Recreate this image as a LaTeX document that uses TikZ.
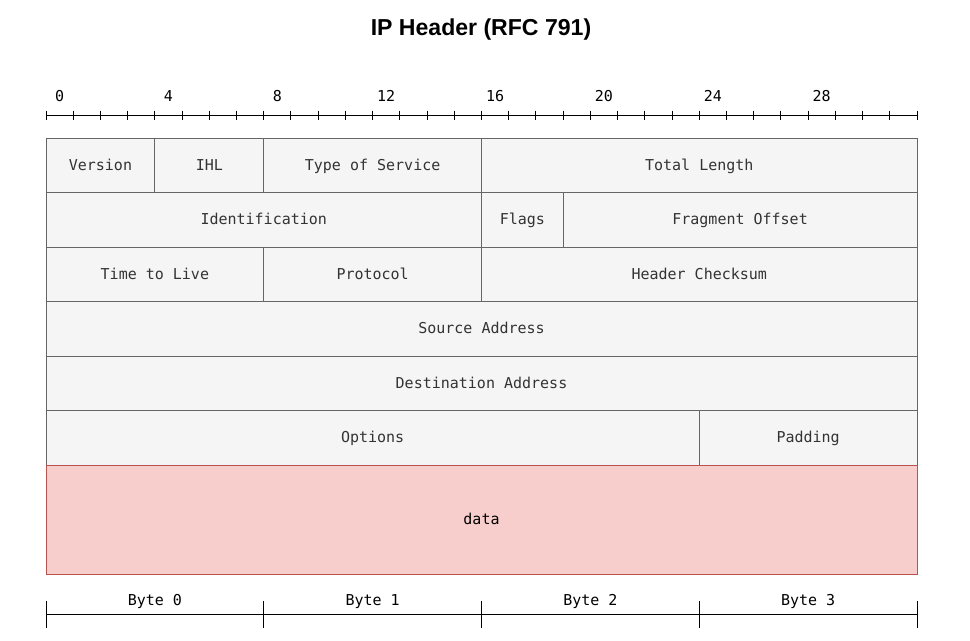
\documentclass[tikz,border=0pt]{standalone}
\usepackage{fontspec}
\newfontfamily\monofnt{DejaVu Sans Mono}
\newfontfamily\titlefnt{Liberation Sans}
\definecolor{fieldfill}{HTML}{F5F5F5}
\definecolor{fieldline}{HTML}{666666}
\definecolor{fieldtext}{HTML}{333333}
\definecolor{datafill}{HTML}{F8CECC}
\definecolor{dataline}{HTML}{B85450}
\newcommand\bw{20.4140625pt}
\newcommand\rh{40.875pt}
\tikzset{
  field/.style={draw=fieldline, fill=fieldfill, text=fieldtext, line width=0.75pt,
    font=\monofnt\fontsize{11.25pt}{13pt}\selectfont, minimum height=\rh,
    text height=9.1pt, text depth=1.9pt,
    inner sep=0pt, outer sep=0pt, anchor=north west},
  datafield/.style={field, draw=dataline, fill=datafill, text=black, minimum height=81.75pt},
  rulerlbl/.style={font=\monofnt\fontsize{11.25pt}{13pt}\selectfont, text=black, inner sep=0pt,
    text height=9.1pt, text depth=1.9pt},
  ruler/.style={line width=0.75pt, black},
}
\newcommand\fld[5]{\node[field, minimum width=#3*\bw] (#1) at ({46+#2*27.21875},#4) {#5};}
\begin{document}
\begin{tikzpicture}[x=0.75pt,y=-0.75pt]
\useasboundingbox (0,0) rectangle (970,640);
\node[font=\titlefnt\bfseries\fontsize{17.3pt}{19pt}\selectfont, inner sep=0pt] (title) at (481,30) {IP Header (RFC 791)};
% bit ruler
\draw[ruler] (46,115) -- (917,115);
\foreach \k in {0,...,32} \draw[ruler] ({46+\k*27.21875},110.5) -- ({46+\k*27.21875},119.5);
\foreach \k in {0,4,...,28} \node[rulerlbl] (bit\k) at ({46+(\k+0.5)*27.21875},97) {\k};
% rows
\fld{version}{0}{4}{138}{Version}
\fld{ihl}{4}{4}{138}{IHL}
\fld{tos}{8}{8}{138}{Type of Service}
\fld{totlen}{16}{16}{138}{Total Length}
\fld{ident}{0}{16}{192.5}{Identification}
\fld{flags}{16}{3}{192.5}{Flags}
\fld{fragoff}{19}{13}{192.5}{Fragment Offset}
\fld{ttl}{0}{8}{247}{Time to Live}
\fld{proto}{8}{8}{247}{Protocol}
\fld{cksum}{16}{16}{247}{Header Checksum}
\fld{src}{0}{32}{301.5}{Source Address}
\fld{dst}{0}{32}{356}{Destination Address}
\fld{opts}{0}{24}{410.5}{Options}
\fld{pad}{24}{8}{410.5}{Padding}
\node[datafield, minimum width=32*\bw] (data) at (46,465) {data};
% byte ruler
\draw[ruler] (46,614) -- (917,614);
\foreach \k in {0,...,4} \draw[ruler] ({46+\k*217.75},601) -- ({46+\k*217.75},627.5);
\foreach \k in {0,...,3} \node[rulerlbl] (byte\k) at ({46+(\k+0.5)*217.75},601) {Byte \k};
\end{tikzpicture}
\end{document}
